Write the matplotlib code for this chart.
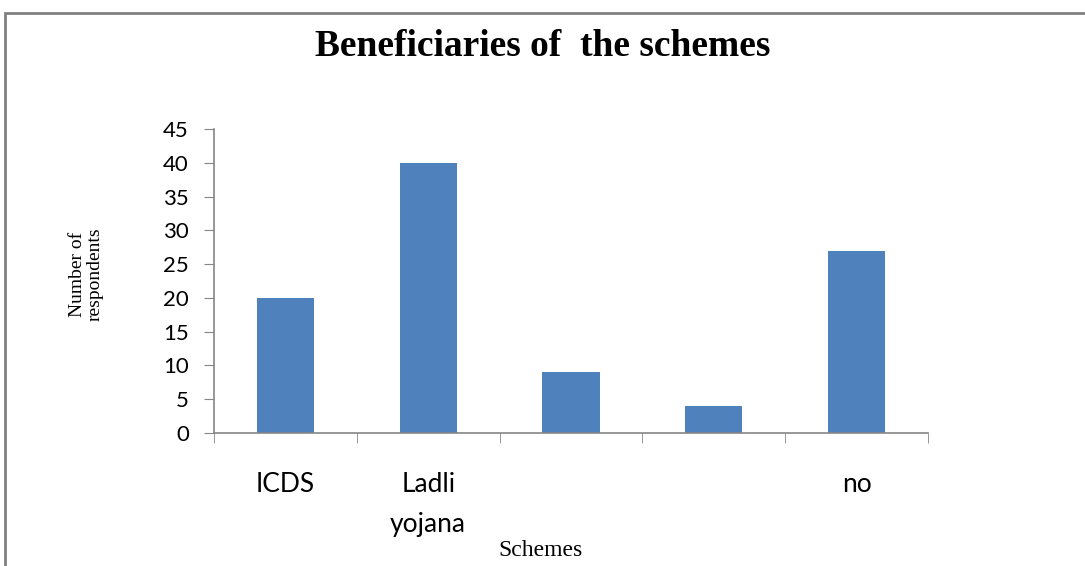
import matplotlib.pyplot as plt
from matplotlib.patches import Rectangle

# Data
schemes = ['ICDS', 'Ladli\nyojana', '', '', 'no']
respondents = [20, 40, 9, 4, 27]
yticks = [0, 5, 10, 15, 20, 25, 30, 35, 40, 45]

bar_color = '#4F81BD'
axis_color = '#868686'

fig = plt.figure(figsize=(10.85, 5.66), dpi=100)

# outer chart border (open on right/bottom, as cropped in the picture)
fig.patches.append(Rectangle((5 / 1085, -0.1), 1.2, 1 - 13 / 566 + 0.1,
                             transform=fig.transFigure, fill=False,
                             edgecolor='#808080', linewidth=2))

ax = fig.add_axes([214 / 1085, 1 - 433 / 566, (928 - 214) / 1085, (433 - 129) / 566])

x = range(len(schemes))
ax.bar(x, respondents, width=0.4, color=bar_color, zorder=2)

ax.set_xlim(-0.5, len(schemes) - 0.5)
ax.set_ylim(0, 45)
ax.set_yticks(yticks)

for s in ['top', 'right']:
    ax.spines[s].set_visible(False)
for s in ['left', 'bottom']:
    ax.spines[s].set_color(axis_color)
    ax.spines[s].set_linewidth(1.2)

ax.tick_params(axis='y', direction='out', length=7, color=axis_color,
               labelsize=16, pad=11)
ax.set_xticks(list(x))
ax.set_xticklabels(schemes, fontsize=19, family='Lato', va='top', linespacing=1.75)
ax.tick_params(axis='x', length=0, pad=28)
ax.set_xticks([i - 0.5 for i in range(len(schemes) + 1)], minor=True)
ax.tick_params(axis='x', which='minor', direction='out', length=7, color=axis_color)
for lbl in ax.get_yticklabels():
    lbl.set_family('Lato')

fig.text(0.5, 1 - 47 / 566, 'Beneficiaries of  the schemes', ha='center', va='center',
         fontsize=27, fontweight='bold', family='Liberation Serif')
fig.text(86 / 1085, 1 - 274 / 566, 'Number of\nrespondents', rotation=90,
         ha='center', va='center', fontsize=14, family='Liberation Serif',
         linespacing=1.05)
fig.text(541 / 1085, 1 - 550 / 566, 'Schemes', ha='center', va='center',
         fontsize=17, family='Liberation Serif')

fig.savefig('out.png', dpi=100)
